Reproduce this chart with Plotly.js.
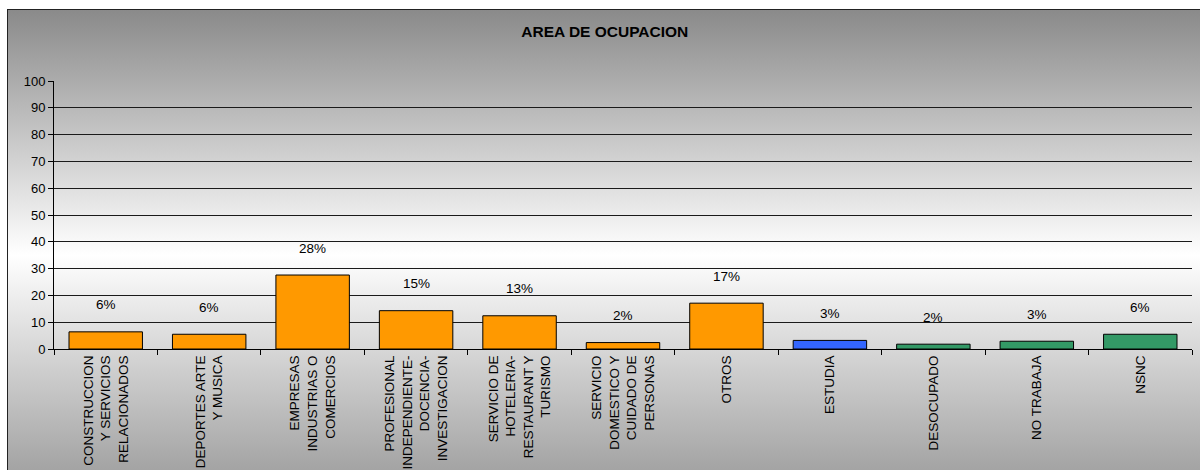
<!DOCTYPE html>
<html>
<head>
<meta charset="utf-8">
<script src="https://cdn.plot.ly/plotly-3.0.1.min.js"></script>
<style>
  body { margin: 0; background: #fff; }
  #wrap { position: relative; width: 1200px; height: 470px; overflow: hidden; }
  #bg {
    position: absolute; left: 7px; top: 9px; width: 1210px; height: 520px;
    border: 1px solid #222;
    background: linear-gradient(to bottom, #8a8a8a 0px, #ffffff 245px, #8a8a8a 520px);
  }
  #plot { position: absolute; left: 0; top: 0; width: 1200px; height: 470px; }
</style>
</head>
<body>
<div id="wrap">
  <div id="bg"></div>
  <div id="plot"></div>
</div>
<script>
// categories (multi-line like the original)
const categories = [
    'CONSTRUCCION<br>Y SERVICIOS<br>RELACIONADOS',
    'DEPORTES ARTE<br>Y MUSICA',
    'EMPRESAS<br>INDUSTRIAS O<br>COMERCIOS',
    'PROFESIONAL<br>INDEPENDIENTE-<br>DOCENCIA-<br>INVESTIGACION',
    'SERVICIO DE<br>HOTELERIA-<br>RESTAURANT Y<br>TURISMO',
    'SERVICIO<br>DOMESTICO Y<br>CUIDADO DE<br>PERSONAS',
    'OTROS',
    'ESTUDIA',
    'DESOCUPADO',
    'NO TRABAJA',
    'NSNC'
];
const values = [6.4, 5.5, 27.6, 14.3, 12.4, 2.4, 17.1, 3.2, 1.8, 2.9, 5.5];
const pctLabels = ['6%', '6%', '28%', '15%', '13%', '2%', '17%', '3%', '2%', '3%', '6%'];
const barColors = ['#FF9900', '#FF9900', '#FF9900', '#FF9900', '#FF9900', '#FF9900', '#FF9900',
    '#3366FF', '#339966', '#339966', '#339966'];

const font = 'Liberation Sans, Arial, sans-serif';

let bars = {
    type: 'bar',
    x: categories,
    y: values,
    marker: {
        color: barColors,
        line: { color: '#000', width: 1 }
    },
    hoverinfo: 'none'
};

// data labels above the bars
let annotations = categories.map((c, i) => ({
    x: c,
    y: values[i],
    yshift: 27,
    text: pctLabels[i],
    showarrow: false,
    font: { family: font, size: 13.5, color: '#000' }
}));

const layout = {
    width: 1200,
    height: 470,
    margin: { l: 54, r: 8, t: 81, b: 121 },
    paper_bgcolor: 'rgba(0,0,0,0)',
    plot_bgcolor: 'rgba(0,0,0,0)',
    bargap: 0.29,
    showlegend: false,
    title: {
        text: '<b>AREA DE OCUPACION</b>',
        font: { family: font, size: 15.5, color: '#000' },
        x: 0.504, xanchor: 'center',
        yref: 'container', y: 1 - 32 / 470, yanchor: 'middle'
    },
    xaxis: {
        type: 'category',
        tickangle: -90,
        tickson: 'boundaries',
        ticks: 'outside',
        ticklen: 5,
        tickcolor: '#000',
        showline: true,
        linecolor: '#000',
        linewidth: 1,
        tickfont: { family: font, size: 13.5, color: '#000' }
    },
    yaxis: {
        range: [0, 100],
        dtick: 10,
        ticks: 'outside',
        ticklen: 5,
        tickcolor: '#000',
        showline: true,
        linecolor: '#000',
        showgrid: true,
        gridcolor: '#1a1a1a',
        zeroline: false,
        tickfont: { family: font, size: 13, color: '#000' }
    },
    annotations: annotations
};

const config = { displayModeBar: false, staticPlot: true };

Plotly.newPlot('plot', [bars], layout, config);
</script>
</body>
</html>
